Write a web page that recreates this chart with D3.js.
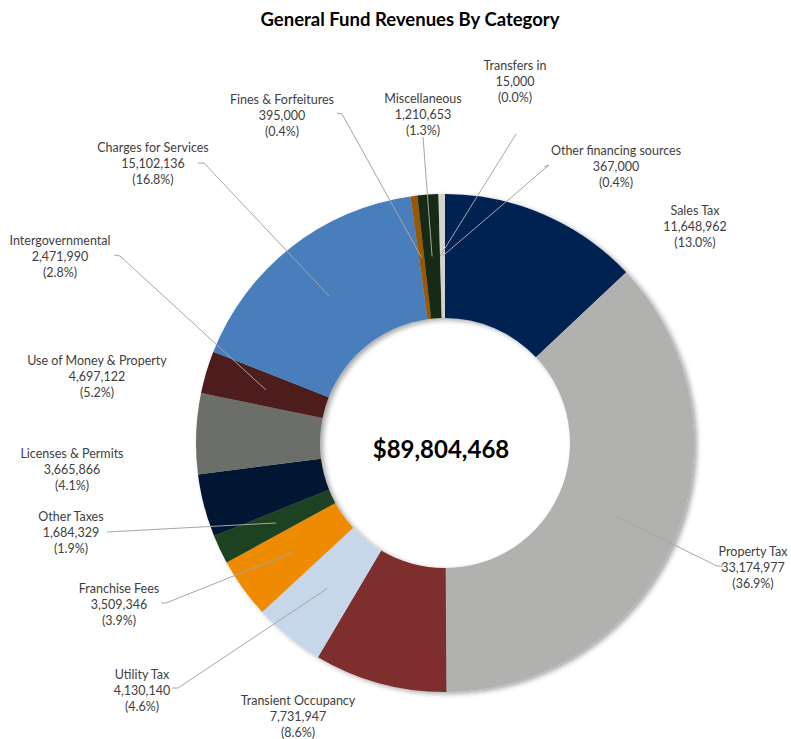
<!DOCTYPE html>
<html>
<head>
<meta charset="utf-8">
<script src="https://cdn.jsdelivr.net/npm/d3@7"></script>
<style>
  html, body { margin: 0; padding: 0; background: #fff; }
  svg { display: block; }
  text { font-family: Lato, "Open Sans", sans-serif; }
</style>
</head>
<body>
<script>
// ---- data ----
const categories = [
  "Sales Tax", "Property Tax", "Transient Occupancy", "Utility Tax", "Franchise Fees",
  "Other Taxes", "Licenses & Permits", "Use of Money & Property", "Intergovernmental",
  "Charges for Services", "Fines & Forfeitures", "Miscellaneous", "Transfers in",
  "Other financing sources"
];
const values = [
  11648962, 33174977, 7731947, 4130140, 3509346,
  1684329, 3665866, 4697122, 2471990,
  15102136, 395000, 1210653, 15000,
  367000
];
const colors = [
  "#002452", "#B1B2AF", "#7F2D2E", "#C6D7E9", "#EE8B00",
  "#1F4221", "#011833", "#6C6E6A", "#4D1C1C",
  "#4A7EBC", "#9A5800", "#142A19", "#8A8A8A",
  "#D2D3CF"
];
const title = "General Fund Revenues By Category";
const centerLabel = "$89,804,468";

// ---- layout (label placement, not data) ----
const W = 791, H = 739;
const cx = 445, cy = 443, rOuter = 249, rInner = 125;
const labelLayout = {
  "Sales Tax":               { x: 695, y: 210, line: null },
  "Property Tax":            { x: 753, y: 551, line: [[717, 566], [723, 566]] },
  "Transient Occupancy":     { x: 298, y: 700, line: null },
  "Utility Tax":             { x: 142, y: 674, line: [[178, 688], [172, 688]] },
  "Franchise Fees":          { x: 119, y: 588, line: [[166, 603], [161, 603]] },
  "Other Taxes":             { x: 71,  y: 516, line: [[107, 532]] },
  "Licenses & Permits":      { x: 72,  y: 453, line: null },
  "Use of Money & Property": { x: 97,  y: 360, line: null },
  "Intergovernmental":       { x: 60,  y: 240, line: [[120, 256], [114, 255]] },
  "Charges for Services":    { x: 153, y: 147, line: [[204, 163], [198, 163]] },
  "Fines & Forfeitures":     { x: 282, y: 99,  line: [[342, 114], [337, 113]] },
  "Miscellaneous":           { x: 423, y: 98,  line: [[423, 137]] },
  "Transfers in":            { x: 515, y: 65,  line: [[516, 134]] },
  "Other financing sources": { x: 616, y: 150, line: [[549, 165], [544, 167]] }
};

const total = d3.sum(values);
const fmt = d3.format(",");

const svg = d3.select("body").append("svg").attr("width", W).attr("height", H);

const defs = svg.append("defs");
const f = defs.append("filter").attr("id", "shadow")
  .attr("x", "-10%").attr("y", "-10%").attr("width", "120%").attr("height", "120%");
f.append("feDropShadow").attr("dx", 3).attr("dy", 2).attr("stdDeviation", 2.5)
  .attr("flood-color", "#000").attr("flood-opacity", 0.35);

svg.append("text")
  .attr("x", 410).attr("y", 19)
  .attr("text-anchor", "middle").attr("dominant-baseline", "central")
  .attr("font-size", 18.5).attr("font-weight", "bold").attr("fill", "#000")
  .text(title);

const pie = d3.pie().sort(null).value(d => d.v);
const data = categories.map((c, i) => ({ name: c, v: values[i], color: colors[i] }));
const arcs = pie(data);
const arc = d3.arc().innerRadius(rInner).outerRadius(rOuter);
const midArc = d3.arc().innerRadius((rInner + rOuter) / 2).outerRadius((rInner + rOuter) / 2);

const g = svg.append("g").attr("transform", `translate(${cx},${cy})`);
g.append("g").attr("filter", "url(#shadow)")
  .selectAll("path").data(arcs).join("path")
  .attr("d", arc)
  .attr("fill", d => d.data.color);

// leader lines
const lines = svg.append("g");
arcs.forEach(d => {
  const L = labelLayout[d.data.name];
  if (!L || !L.line) return;
  const c = midArc.centroid(d);
  const pts = [[c[0] + cx, c[1] + cy]].concat(L.line);
  lines.append("path")
    .attr("d", d3.line()(pts))
    .attr("fill", "none").attr("stroke", "#A6A6A6").attr("stroke-width", 1);
});

// labels
const labels = svg.append("g");
arcs.forEach(d => {
  const L = labelLayout[d.data.name];
  const pct = "(" + (d.data.v / total * 100).toFixed(1) + "%)";
  const t = labels.append("text")
    .attr("text-anchor", "middle")
    .attr("font-size", 12.5).attr("fill", "#404040");
  [d.data.name, fmt(d.data.v), pct].forEach((s, i) => {
    t.append("tspan").attr("x", L.x).attr("y", L.y + i * 16)
      .attr("dominant-baseline", "central").text(s);
  });
});

svg.append("text")
  .attr("x", 441).attr("y", 448)
  .attr("text-anchor", "middle").attr("dominant-baseline", "central")
  .attr("font-size", 24).attr("font-weight", "bold").attr("fill", "#000")
  .text(centerLabel);
</script>
</body>
</html>
